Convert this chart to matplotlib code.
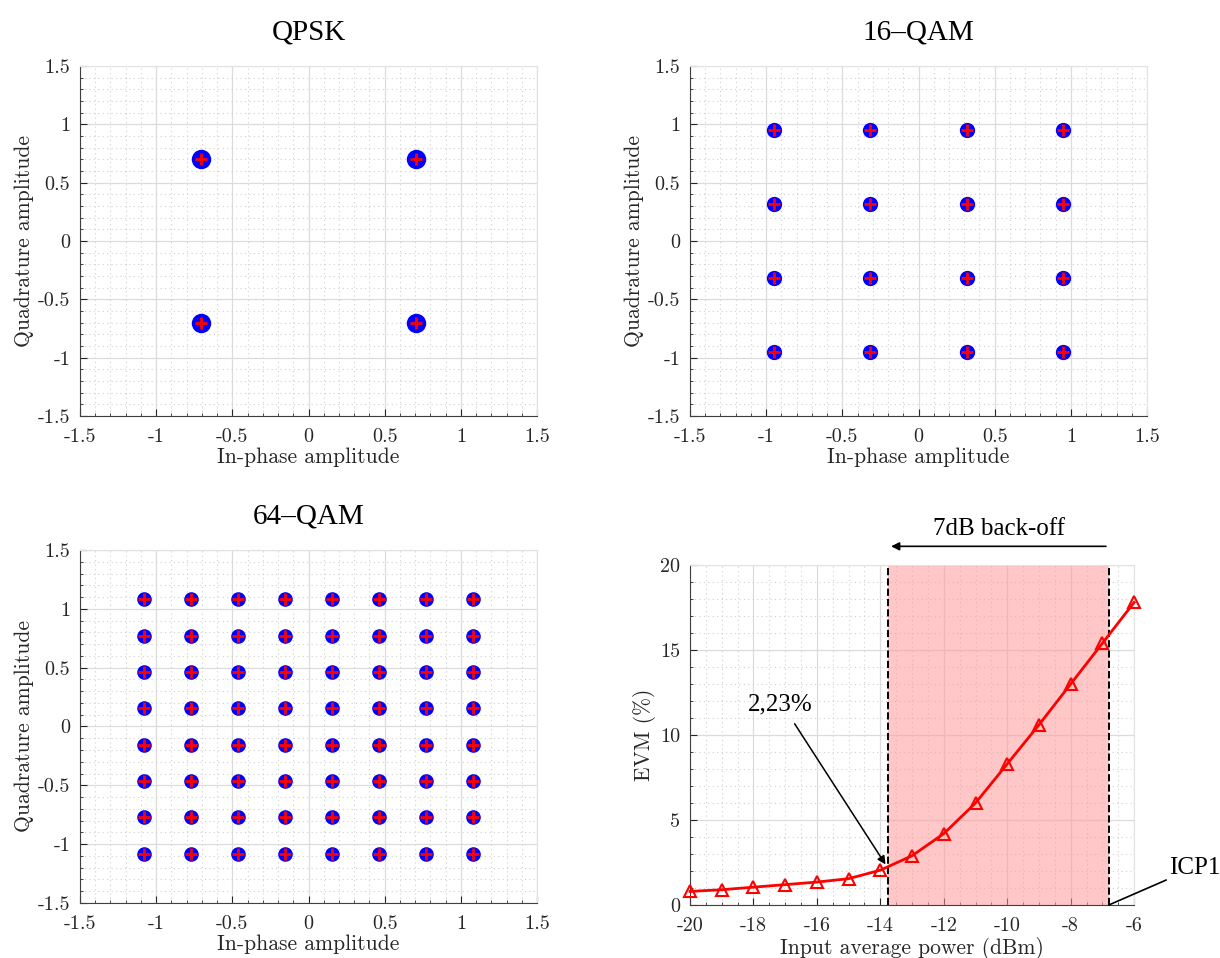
import numpy as np
import matplotlib
matplotlib.use("Agg")
import matplotlib.pyplot as plt
from matplotlib.ticker import MultipleLocator, FormatStrFormatter

plt.rcParams['font.family'] = ['cmr10', 'DejaVu Serif']
plt.rcParams['axes.unicode_minus'] = False
plt.rcParams['mathtext.fontset'] = 'cm'

# Ідеальні точки сузір'їв
qpsk_levels = [-0.707, 0.707]
qam16_levels = [-0.949, -0.316, 0.316, 0.949]
qam64_levels = [-1.080, -0.772, -0.463, -0.154, 0.154, 0.463, 0.772, 1.080]

# EVM від вхідної потужності
pin_dbm = [-20, -19, -18, -17, -16, -15, -14, -13, -12, -11, -10, -9, -8, -7, -6]
evm_pct = [0.8, 0.9, 1.05, 1.2, 1.35, 1.55, 2.05, 2.9, 4.2, 6.0, 8.3, 10.6, 13.0, 15.4, 17.8]
backoff_left = -13.75
backoff_right = -6.8

TXT = '#262626'
title_font = ['Liberation Serif', 'DejaVu Serif']


def style_axes(ax, major, minor):
    ax.xaxis.set_major_locator(MultipleLocator(major[0]))
    ax.yaxis.set_major_locator(MultipleLocator(major[1]))
    ax.xaxis.set_minor_locator(MultipleLocator(minor[0]))
    ax.yaxis.set_minor_locator(MultipleLocator(minor[1]))
    ax.xaxis.set_major_formatter(FormatStrFormatter('%g'))
    ax.yaxis.set_major_formatter(FormatStrFormatter('%g'))
    ax.grid(True, which='major', color='#dcdcdc', linewidth=0.9)
    ax.grid(True, which='minor', color='#d0d0d0', linestyle=(0, (1, 3)), linewidth=0.8)
    ax.set_axisbelow(True)
    ax.tick_params(which='both', direction='in', colors=TXT, labelsize=14.5)
    ax.tick_params(which='major', length=5)
    ax.tick_params(which='minor', length=2.5)
    ax.tick_params(axis='x', which='both', pad=9)
    ax.tick_params(axis='y', which='both', pad=7)
    for s in ['left', 'bottom']:
        ax.spines[s].set_color('#404040')
    for s in ['top', 'right']:
        ax.spines[s].set_color('#e2e2e2')


def constellation(ax, levels, title, blob):
    I, Q = np.meshgrid(levels, levels)
    ax.plot(I.ravel(), Q.ravel(), 'o', color='blue', markersize=blob, markeredgewidth=0)
    ax.plot(I.ravel(), Q.ravel(), '+', color='red', markersize=8, markeredgewidth=2)
    ax.set_xlim(-1.5, 1.5)
    ax.set_ylim(-1.5, 1.5)
    style_axes(ax, (0.5, 0.5), (0.1, 0.1))
    ax.set_xlabel('In-phase amplitude', fontsize=15.5, color=TXT, labelpad=1)
    ax.set_ylabel('Quadrature amplitude', fontsize=15.5, color=TXT, labelpad=3)
    ax.set_title(title, fontsize=21, family=title_font, pad=19)


fig = plt.figure(figsize=(12.2, 9.58), dpi=100)
ax1 = fig.add_axes([0.0656, 0.5658, 0.3746, 0.3653])
ax2 = fig.add_axes([0.5656, 0.5658, 0.3746, 0.3653])
ax3 = fig.add_axes([0.0656, 0.0574, 0.3746, 0.3685])
ax4 = fig.add_axes([0.5656, 0.0553, 0.3640, 0.3549])

constellation(ax1, qpsk_levels, 'QPSK', 14)
constellation(ax2, qam16_levels, '16\u2013QAM', 11)
constellation(ax3, qam64_levels, '64\u2013QAM', 10.5)

# EVM панель
ax4.axvspan(backoff_left, backoff_right, color='#ff9a9a', alpha=0.55, lw=0, zorder=1)
ax4.plot([backoff_left, backoff_left], [0, 20], '--', color='black', lw=1.4, zorder=3)
ax4.plot([backoff_right, backoff_right], [0, 20], '--', color='black', lw=1.4, zorder=3)
ax4.plot(pin_dbm, evm_pct, '-^', color='red', lw=2, markersize=8,
         markerfacecolor='none', markeredgewidth=1.5, zorder=4, clip_on=False)
ax4.set_xlim(-20, -6)
ax4.set_ylim(0, 20)
style_axes(ax4, (2, 5), (0.5, 1))
ax4.set_xlabel('Input average power (dBm)', fontsize=15.5, color=TXT, labelpad=1)
ax4.set_ylabel('EVM (%)', fontsize=15.5, color=TXT, labelpad=3)

ax4.annotate('', xy=(backoff_left, 21.1), xytext=(backoff_right, 21.1),
             arrowprops=dict(arrowstyle='-|>', color='black', lw=1.2, mutation_scale=12),
             annotation_clip=False)
ax4.text((backoff_left + backoff_right) / 2, 22.1, '7dB back-off', ha='center', va='center',
         fontsize=18, family=title_font)

ax4.annotate('', xy=(backoff_left - 0.04, 2.25), xytext=(-16.75, 10.8),
             arrowprops=dict(arrowstyle='-|>', color='black', lw=1.1, mutation_scale=12),
             annotation_clip=False)
ax4.text(-17.15, 11.8, '2,23%', ha='center', va='center', fontsize=18, family=title_font)

ax4.annotate('ICP1', xy=(backoff_right, 0), xytext=(-4.9, 2.2),
             fontsize=18, family=title_font, va='center', ha='left',
             arrowprops=dict(arrowstyle='-', color='black', lw=1.2, shrinkA=0, shrinkB=0),
             annotation_clip=False)

fig.savefig('out.png', dpi=100)
